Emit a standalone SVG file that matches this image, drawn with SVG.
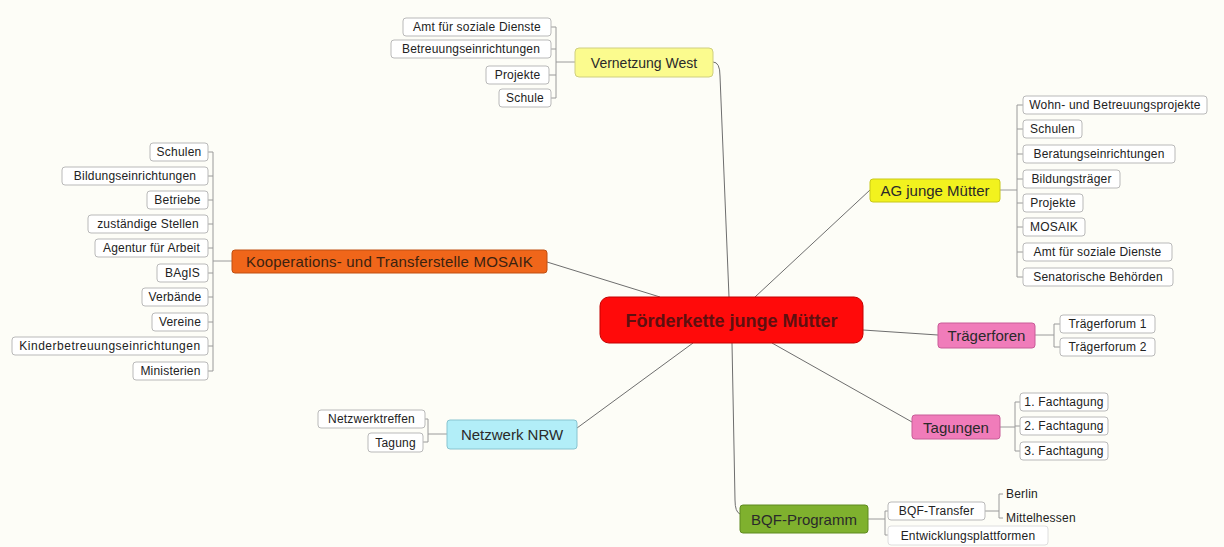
<svg xmlns="http://www.w3.org/2000/svg" width="1224" height="547" viewBox="0 0 1224 547">
<style>
.bg{fill:#fdfdf7}
.main{stroke:#6e6e6e;stroke-width:1;fill:none}
.sub{stroke:#9a9a9a;stroke-width:1;fill:none}
.box{fill:#ffffff;stroke:#b9b9b9;stroke-width:1}
.t{font-family:"Liberation Sans",Arial,sans-serif;font-size:12px;fill:#222;text-anchor:middle;letter-spacing:0.2px}
.tl{font-family:"Liberation Sans",Arial,sans-serif;font-size:12px;fill:#222;text-anchor:start;letter-spacing:0.2px}
.tm{font-family:"Liberation Sans",Arial,sans-serif;font-size:15px;fill:#2a2a2a;text-anchor:middle}
.tc{font-family:"Liberation Sans",Arial,sans-serif;font-size:18px;font-weight:bold;fill:#5e1010;text-anchor:middle}
</style>
<rect class="bg" x="0" y="0" width="1224" height="547"/>

<g id="connectors">
  <!-- main -->
  <path class="main" d="M713,62 Q720,62 720,76 L729,297"/>
  <path class="main" d="M755,297 L870,190"/>
  <path class="main" d="M547,262 L660,297"/>
  <path class="main" d="M863,330 L938,335"/>
  <path class="main" d="M693,343 L577,428"/>
  <path class="main" d="M772,343 L912,422"/>
  <path class="main" d="M732,343 L735,500 Q735,512 740,514"/>
  <!-- Vernetzung West -->
  <path class="sub" d="M575,62 L556,62 M556,27 L556,98 M551,27 L556,27 M551,49 L556,49 M549,75 L556,75 M551,98 L556,98"/>
  <!-- AG junge Mütter -->
  <path class="sub" d="M1000,190 L1017,190 M1017,105 L1017,277 M1017,105 L1023,105 M1017,129 L1023,129 M1017,154 L1023,154 M1017,179 L1023,179 M1017,203 L1023,203 M1017,227 L1023,227 M1017,252 L1023,252 M1017,277 L1023,277"/>
  <!-- MOSAIK -->
  <path class="sub" d="M232,261 L213,261 M213,152 L213,371 M208,152 L213,152 M208,176 L213,176 M208,200 L213,200 M208,224 L213,224 M208,248 L213,248 M208,273 L213,273 M208,297 L213,297 M208,322 L213,322 M208,346 L213,346 M208,371 L213,371"/>
  <!-- Trägerforen -->
  <path class="sub" d="M1035,335 L1054,335 M1054,324 L1054,347 M1054,324 L1060,324 M1054,347 L1060,347"/>
  <!-- Netzwerk NRW -->
  <path class="sub" d="M447,434 L428,434 M428,419 L428,442 M425,419 L428,419 M423,442 L428,442"/>
  <!-- Tagungen -->
  <path class="sub" d="M1000,427 L1015,427 M1015,402 L1015,451 M1015,402 L1020,402 M1015,426 L1020,426 M1015,451 L1020,451"/>
  <!-- BQF -->
  <path class="sub" d="M868,519 L885,519 M885,511 L885,535 M885,511 L888,511 M885,535 L888,535"/>
  <path class="sub" d="M985,511 L999,511 M999,494 L999,518 M999,494 L1003,494 M999,518 L1003,518"/>
</g>

<g id="central">
  <rect x="600" y="297" width="263" height="46" rx="9" fill="#ff0a0a" stroke="#c40000" stroke-width="1"/>
  <text class="tc" x="731.5" y="326.5">Förderkette junge Mütter</text>
</g>

<g id="vernetzung-west">
  <rect x="575" y="48" width="138" height="29" rx="4" fill="#fbfb8e" stroke="#cfcf80" stroke-width="1"/>
  <text class="tm" x="644" y="67.5" style="font-size:14px">Vernetzung West</text>
</g>
<g id="vw-amt"><rect class="box" x="403" y="18" width="148" height="18" rx="3"/><text class="t" x="477" y="31">Amt für soziale Dienste</text></g>
<g id="vw-betreuung"><rect class="box" x="391" y="40" width="160" height="18" rx="3"/><text class="t" x="471" y="53">Betreuungseinrichtungen</text></g>
<g id="vw-projekte"><rect class="box" x="486" y="66" width="63" height="18" rx="3"/><text class="t" x="517.5" y="79">Projekte</text></g>
<g id="vw-schule"><rect class="box" x="499" y="89" width="52" height="18" rx="3"/><text class="t" x="525" y="102">Schule</text></g>

<g id="ag-junge-muetter">
  <rect x="870" y="179" width="130" height="23" rx="3" fill="#f2f21e" stroke="#c8c818" stroke-width="1"/>
  <text class="tm" x="935" y="196">AG junge Mütter</text>
</g>
<g id="ag-wohn"><rect class="box" x="1023" y="96" width="184" height="18" rx="3"/><text class="t" x="1115" y="109">Wohn- und Betreuungsprojekte</text></g>
<g id="ag-schulen"><rect class="box" x="1023" y="120" width="59" height="18" rx="3"/><text class="t" x="1052.5" y="133">Schulen</text></g>
<g id="ag-beratung"><rect class="box" x="1023" y="145" width="152" height="18" rx="3"/><text class="t" x="1099" y="158">Beratungseinrichtungen</text></g>
<g id="ag-bildung"><rect class="box" x="1023" y="170" width="97" height="18" rx="3"/><text class="t" x="1071.5" y="183">Bildungsträger</text></g>
<g id="ag-projekte"><rect class="box" x="1023" y="194" width="60" height="18" rx="3"/><text class="t" x="1053" y="207">Projekte</text></g>
<g id="ag-mosaik"><rect class="box" x="1023" y="218" width="62" height="18" rx="3"/><text class="t" x="1054" y="231">MOSAIK</text></g>
<g id="ag-amt"><rect class="box" x="1023" y="243" width="149" height="18" rx="3"/><text class="t" x="1097.5" y="256">Amt für soziale Dienste</text></g>
<g id="ag-senat"><rect class="box" x="1023" y="268" width="150" height="18" rx="3"/><text class="t" x="1098" y="281">Senatorische Behörden</text></g>

<g id="mosaik">
  <rect x="232" y="250" width="315" height="23" rx="3" fill="#f0661a" stroke="#c04e10" stroke-width="1"/>
  <text class="tm" x="389.5" y="267" style="letter-spacing:0.2px;fill:#3a2210">Kooperations- und Transferstelle MOSAIK</text>
</g>
<g id="m-schulen"><rect class="box" x="150" y="143" width="58" height="18" rx="3"/><text class="t" x="179" y="156">Schulen</text></g>
<g id="m-bildung"><rect class="box" x="62" y="167" width="146" height="18" rx="3"/><text class="t" x="135" y="180">Bildungseinrichtungen</text></g>
<g id="m-betriebe"><rect class="box" x="147" y="191" width="61" height="18" rx="3"/><text class="t" x="177.5" y="204">Betriebe</text></g>
<g id="m-zustaendig"><rect class="box" x="88" y="215" width="120" height="18" rx="3"/><text class="t" x="148" y="228">zuständige Stellen</text></g>
<g id="m-agentur"><rect class="box" x="95" y="239" width="113" height="18" rx="3"/><text class="t" x="151.5" y="252">Agentur für Arbeit</text></g>
<g id="m-bagis"><rect class="box" x="157" y="264" width="51" height="18" rx="3"/><text class="t" x="182.5" y="277">BAgIS</text></g>
<g id="m-verbaende"><rect class="box" x="142" y="288" width="66" height="18" rx="3"/><text class="t" x="175" y="301">Verbände</text></g>
<g id="m-vereine"><rect class="box" x="152" y="313" width="56" height="18" rx="3"/><text class="t" x="180" y="326">Vereine</text></g>
<g id="m-kinder"><rect class="box" x="12" y="337" width="196" height="18" rx="3"/><text class="t" x="110" y="350" style="letter-spacing:0.5px">Kinderbetreuungseinrichtungen</text></g>
<g id="m-ministerien"><rect class="box" x="133" y="362" width="75" height="18" rx="3"/><text class="t" x="170.5" y="375">Ministerien</text></g>

<g id="traegerforen">
  <rect x="938" y="323" width="97" height="25" rx="3" fill="#f07cba" stroke="#c85c98" stroke-width="1"/>
  <text class="tm" x="986.5" y="341">Trägerforen</text>
</g>
<g id="tf-1"><rect class="box" x="1060" y="315" width="95" height="18" rx="3"/><text class="t" x="1107.5" y="328">Trägerforum 1</text></g>
<g id="tf-2"><rect class="box" x="1060" y="338" width="95" height="18" rx="3"/><text class="t" x="1107.5" y="351">Trägerforum 2</text></g>

<g id="netzwerk-nrw">
  <rect x="447" y="420" width="130" height="29" rx="3" fill="#b2eef8" stroke="#88c4d0" stroke-width="1"/>
  <text class="tm" x="512" y="440">Netzwerk NRW</text>
</g>
<g id="nrw-treffen"><rect class="box" x="318" y="410" width="107" height="18" rx="3"/><text class="t" x="371.5" y="423">Netzwerktreffen</text></g>
<g id="nrw-tagung"><rect class="box" x="368" y="433" width="55" height="19" rx="3"/><text class="t" x="395.5" y="446.5">Tagung</text></g>

<g id="tagungen">
  <rect x="912" y="415" width="88" height="24" rx="3" fill="#f07cba" stroke="#c85c98" stroke-width="1"/>
  <text class="tm" x="956" y="432.5">Tagungen</text>
</g>
<g id="ft-1"><rect class="box" x="1020" y="393" width="88" height="18" rx="3"/><text class="t" x="1064" y="406">1. Fachtagung</text></g>
<g id="ft-2"><rect class="box" x="1020" y="417" width="88" height="18" rx="3"/><text class="t" x="1064" y="430">2. Fachtagung</text></g>
<g id="ft-3"><rect class="box" x="1020" y="442" width="88" height="18" rx="3"/><text class="t" x="1064" y="455">3. Fachtagung</text></g>

<g id="bqf">
  <rect x="740" y="505" width="128" height="28" rx="3" fill="#7fb12e" stroke="#5f8a1e" stroke-width="1"/>
  <text class="tm" x="804" y="524.5">BQF-Programm</text>
</g>
<g id="bqf-transfer"><rect class="box" x="888" y="502" width="97" height="18" rx="3"/><text class="t" x="936.5" y="515">BQF-Transfer</text></g>
<g id="bqf-entwicklung"><rect class="box" x="888" y="526" width="160" height="19" rx="3" style="stroke:#dedede"/><text class="t" x="968" y="539.5">Entwicklungsplattformen</text></g>
<g id="bqf-berlin"><text class="tl" x="1006" y="498">Berlin</text></g>
<g id="bqf-mittelhessen"><text class="tl" x="1006" y="522">Mittelhessen</text></g>
</svg>
